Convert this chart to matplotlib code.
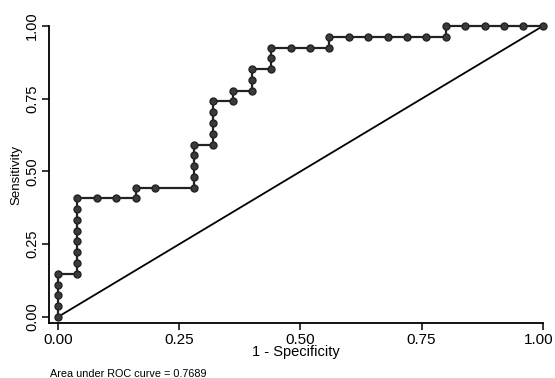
import matplotlib.pyplot as plt
from matplotlib.transforms import ScaledTranslation

plt.rcParams['font.family'] = ['Liberation Sans', 'DejaVu Sans']

# ROC points (counts of false / true positives)
n_neg = 25
n_pos = 27
fp = [0, 0, 0, 0, 0,
      1, 1, 1, 1, 1, 1, 1, 1,
      2, 3, 4,
      4, 5, 7,
      7, 7, 7, 7,
      8, 8, 8, 8, 8,
      9, 9,
      10, 10, 10,
      11, 11, 11,
      12, 13, 14,
      14, 15, 16, 17, 18, 19, 20,
      20, 21, 22, 23, 24, 25]
tp = [0, 1, 2, 3, 4,
      4, 5, 6, 7, 8, 9, 10, 11,
      11, 11, 11,
      12, 12, 12,
      13, 14, 15, 16,
      16, 17, 18, 19, 20,
      20, 21,
      21, 22, 23,
      23, 24, 25,
      25, 25, 25,
      26, 26, 26, 26, 26, 26, 26,
      27, 27, 27, 27, 27, 27]
auc_text = 'Area under ROC curve = 0.7689'
ticks = [0.0, 0.25, 0.5, 0.75, 1.0]
tick_labels = ['0.00', '0.25', '0.50', '0.75', '1.00']

spec1 = [f / n_neg for f in fp]
sens = [t / n_pos for t in tp]

fig = plt.figure(figsize=(5.55, 3.78), dpi=100)
ax = fig.add_axes([0.0883, 0.1455, 0.8897, 0.7855])

ax.plot([0, 1], [0, 1], color='black', linewidth=1.3, clip_on=False)
ax.plot(spec1, sens, color='#222222', linewidth=1.6, marker='o', markersize=5,
        markerfacecolor='#3a3a3a', markeredgecolor='#222222', clip_on=False, zorder=3)

ax.set_xlim(-0.0186, 1.0)
ax.set_ylim(-0.021, 1.0)
ax.spines['top'].set_visible(False)
ax.spines['right'].set_visible(False)
for s in ['left', 'bottom']:
    ax.spines[s].set_linewidth(1.3)

ax.set_xticks(ticks)
ax.set_xticklabels(tick_labels, fontsize=11)
ax.set_yticks(ticks)
ax.set_yticklabels(tick_labels, fontsize=10.5, rotation=90, va='center')
ax.tick_params(direction='out', length=5, width=1.1, pad=2)

# keep the last x label inside the picture
last = ax.get_xticklabels()[-1]
last.set_transform(last.get_transform() + ScaledTranslation(-4 / 100, 0, fig.dpi_scale_trans))

ax.set_xlabel('1 - Specificity', fontsize=10.5, labelpad=-1)
ax.set_ylabel('Sensitivity', fontsize=9.5, labelpad=2)

fig.text(0.09, 0.003, auc_text, fontsize=7.8)

fig.savefig('out.png', dpi=100)
